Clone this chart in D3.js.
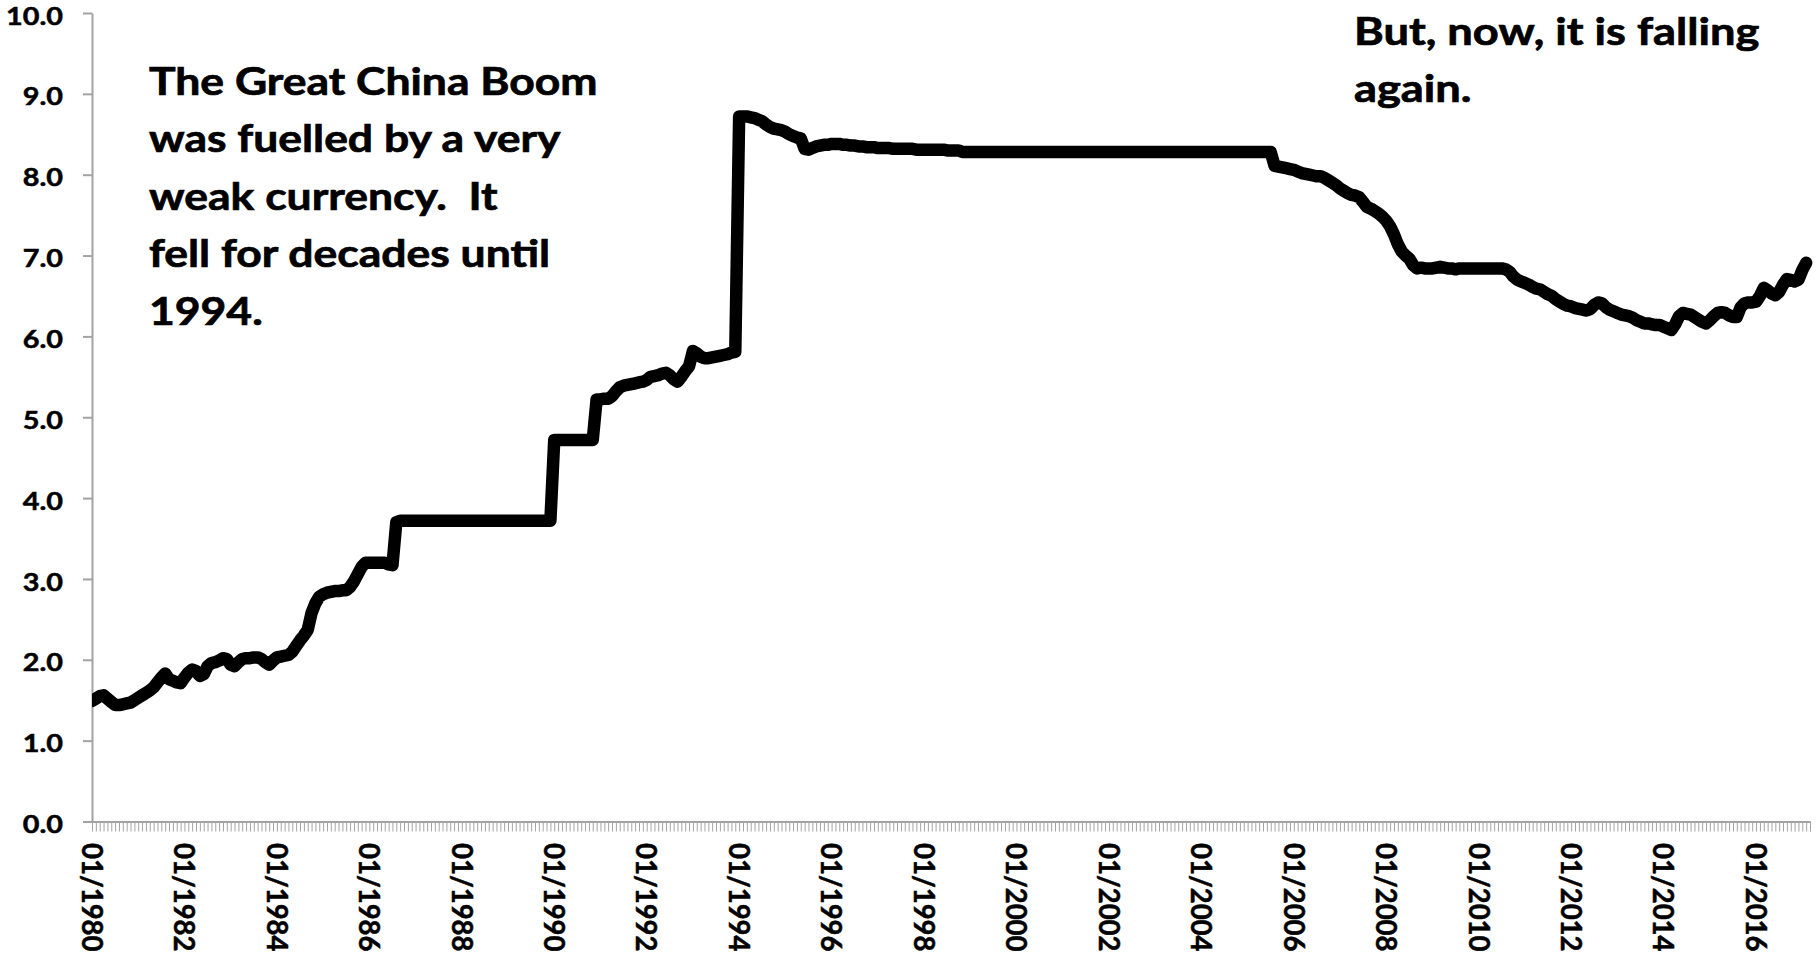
<!DOCTYPE html>
<html>
<head>
<meta charset="utf-8">
<script src="https://cdn.jsdelivr.net/npm/d3@7"></script>
<style>
  body { margin: 0; background: #fff; }
  svg text { font-family: Lato, "Open Sans", sans-serif; font-weight: 700; fill: #000; white-space: pre; }
</style>
</head>
<body>
<svg id="chart" width="1819" height="955"></svg>
<script>
// Yuan per US dollar, monthly, January 1980 to February 2017
const rates1980s = [
  1.49, 1.52, 1.55, 1.56, 1.52, 1.48, 1.44, 1.44, 1.45, 1.46, 1.47, 1.50,
  1.53, 1.56, 1.59, 1.62, 1.66, 1.72, 1.78, 1.83, 1.76, 1.74, 1.72, 1.71,
  1.78, 1.84, 1.88, 1.86, 1.80, 1.82, 1.92, 1.96, 1.97, 1.99, 2.02, 2.01,
  1.94, 1.92, 1.97, 2.01, 2.02, 2.02, 2.03, 2.03, 2.01, 1.97, 1.94, 1.99,
  2.03, 2.04, 2.05, 2.06, 2.10, 2.17, 2.24, 2.30, 2.37, 2.58, 2.70, 2.78,
  2.81, 2.83, 2.84, 2.85, 2.85, 2.86, 2.86, 2.90, 2.97, 3.06, 3.15, 3.20,
  3.20, 3.20, 3.20, 3.20, 3.20, 3.18, 3.17, 3.70, 3.72, 3.72, 3.72, 3.72,
  3.72, 3.72, 3.72, 3.72, 3.72, 3.72, 3.72, 3.72, 3.72, 3.72, 3.72, 3.72,
  3.72, 3.72, 3.72, 3.72, 3.72, 3.72, 3.72, 3.72, 3.72, 3.72, 3.72, 3.72,
  3.72, 3.72, 3.72, 3.72, 3.72, 3.72, 3.72, 3.72, 3.72, 3.72, 3.72, 3.72
];
const rates1990s = [
  4.72, 4.72, 4.72, 4.72, 4.72, 4.72, 4.72, 4.72, 4.72, 4.72, 4.72, 5.22,
  5.22, 5.23, 5.23, 5.26, 5.32, 5.37, 5.39, 5.40, 5.41, 5.42, 5.43, 5.44,
  5.46, 5.50, 5.51, 5.52, 5.54, 5.55, 5.52, 5.47, 5.44, 5.50, 5.57, 5.63,
  5.82, 5.79, 5.75, 5.73, 5.73, 5.74, 5.75, 5.76, 5.77, 5.78, 5.80, 5.81,
  8.72, 8.72, 8.72, 8.71, 8.70, 8.68, 8.66, 8.62, 8.59, 8.57, 8.56, 8.55,
  8.53, 8.50, 8.48, 8.46, 8.45, 8.32, 8.31, 8.33, 8.35, 8.36, 8.37, 8.37,
  8.38, 8.38, 8.38, 8.37, 8.37, 8.36, 8.36, 8.35, 8.35, 8.34, 8.34, 8.34,
  8.33, 8.33, 8.33, 8.33, 8.32, 8.32, 8.32, 8.32, 8.32, 8.32, 8.31, 8.31,
  8.31, 8.31, 8.31, 8.31, 8.31, 8.31, 8.30, 8.30, 8.30, 8.30, 8.28, 8.28,
  8.28, 8.28, 8.28, 8.28, 8.28, 8.28, 8.28, 8.28, 8.28, 8.28, 8.28, 8.28
];
const rates2000s = [
  8.28, 8.28, 8.28, 8.28, 8.28, 8.28, 8.28, 8.28, 8.28, 8.28, 8.28, 8.28,
  8.28, 8.28, 8.28, 8.28, 8.28, 8.28, 8.28, 8.28, 8.28, 8.28, 8.28, 8.28,
  8.28, 8.28, 8.28, 8.28, 8.28, 8.28, 8.28, 8.28, 8.28, 8.28, 8.28, 8.28,
  8.28, 8.28, 8.28, 8.28, 8.28, 8.28, 8.28, 8.28, 8.28, 8.28, 8.28, 8.28,
  8.28, 8.28, 8.28, 8.28, 8.28, 8.28, 8.28, 8.28, 8.28, 8.28, 8.28, 8.28,
  8.28, 8.28, 8.28, 8.28, 8.28, 8.28, 8.28, 8.11, 8.10, 8.09, 8.08, 8.07,
  8.06, 8.04, 8.02, 8.01, 8.00, 7.99, 7.98, 7.98, 7.96, 7.93, 7.90, 7.87,
  7.83, 7.80, 7.77, 7.75, 7.74, 7.72, 7.66, 7.60, 7.58, 7.55, 7.52, 7.48,
  7.43, 7.36, 7.26, 7.14, 7.05, 7.00, 6.96, 6.88, 6.84, 6.85, 6.84, 6.84,
  6.84, 6.85, 6.86, 6.85, 6.84, 6.84, 6.83, 6.84, 6.84, 6.84, 6.84, 6.84
];
const rates2010s = [
  6.84, 6.84, 6.84, 6.84, 6.84, 6.84, 6.84, 6.83, 6.80, 6.74, 6.70, 6.68,
  6.66, 6.64, 6.61, 6.59, 6.58, 6.55, 6.52, 6.50, 6.46, 6.43, 6.40, 6.38,
  6.37, 6.35, 6.34, 6.33, 6.32, 6.34, 6.39, 6.42, 6.41, 6.36, 6.33, 6.31,
  6.29, 6.27, 6.26, 6.25, 6.23, 6.20, 6.18, 6.16, 6.16, 6.15, 6.14, 6.14,
  6.12, 6.10, 6.08, 6.15, 6.25, 6.29, 6.28, 6.27, 6.24, 6.21, 6.18, 6.16,
  6.20, 6.25, 6.29, 6.30, 6.29, 6.26, 6.24, 6.24, 6.36, 6.41, 6.42, 6.42,
  6.43, 6.50, 6.60, 6.57, 6.53, 6.51, 6.55, 6.64, 6.71, 6.70, 6.68, 6.70,
  6.82, 6.91
];

const yTicks = [0, 1, 2, 3, 4, 5, 6, 7, 8, 9, 10];
const xTickLabels = ["01/1980", "01/1982", "01/1984", "01/1986", "01/1988", "01/1990",
  "01/1992", "01/1994", "01/1996", "01/1998", "01/2000", "01/2002", "01/2004",
  "01/2006", "01/2008", "01/2010", "01/2012", "01/2014", "01/2016"];
const monthsPerLabel = 24;

const noteLeft = ["The Great China Boom", "was fuelled by a very", "weak currency.  It",
  "fell for decades until", "1994."];
const noteRight = ["But, now, it is falling", "again."];

const rates = [].concat(rates1980s, rates1990s, rates2000s, rates2010s);

const svg = d3.select("#chart");
const axisGrey = "#a3a3a3";

const plot = { left: 92, right: 1810, top: 13, bottom: 821.5 };

const x = d3.scaleLinear().domain([0, rates.length]).range([plot.left, plot.right]);
const y = d3.scaleLinear().domain([0, 10]).range([plot.bottom, plot.top]);

// y axis
const yAxis = svg.append("g")
  .attr("transform", `translate(${plot.left},0)`)
  .call(d3.axisLeft(y).tickValues(yTicks).tickSize(9).tickSizeOuter(0).tickFormat(d3.format(".1f")));
yAxis.select(".domain").attr("stroke", axisGrey).attr("stroke-width", 2);
yAxis.selectAll(".tick line").attr("stroke", axisGrey).attr("stroke-width", 2);
yAxis.selectAll(".tick text")
  .attr("x", 0).attr("dy", null)
  .attr("dominant-baseline", "central")
  .attr("text-anchor", "end")
  .attr("font-size", 24)
  .attr("stroke", "#000").attr("stroke-width", 0.5)
  .attr("transform", "translate(-29,2) scale(1.2,1)");

// x axis: a tick for every month
const xAxis = svg.append("g")
  .attr("transform", `translate(0,${plot.bottom})`)
  .call(d3.axisBottom(x).tickValues(d3.range(0, rates.length + 1)).tickSize(10).tickSizeOuter(0).tickFormat(""));
xAxis.select(".domain").attr("stroke", axisGrey).attr("stroke-width", 2);
xAxis.selectAll(".tick line").attr("stroke", axisGrey).attr("stroke-width", 1);

// rotated month labels
svg.append("g").selectAll("text")
  .data(xTickLabels)
  .join("text")
  .attr("transform", (d, k) => `translate(${x(k * monthsPerLabel)},843) rotate(90) scale(1,1.06)`)
  .attr("dy", "0.35em")
  .attr("text-anchor", "start")
  .attr("font-size", 27.5)
  .attr("stroke", "#000").attr("stroke-width", 0.5)
  .text(d => d);

// the rate line
svg.append("clipPath").attr("id", "plotClip")
  .append("rect").attr("x", plot.left).attr("y", 0).attr("width", 1819 - plot.left).attr("height", 955);

svg.append("path")
  .datum(rates)
  .attr("clip-path", "url(#plotClip)")
  .attr("fill", "none")
  .attr("stroke", "#000")
  .attr("stroke-width", 12.5)
  .attr("stroke-linejoin", "round")
  .attr("stroke-linecap", "round")
  .attr("d", d3.line().x((d, i) => x(i)).y(d => y(d)));

// annotations
function note(lines, left, top, stretch) {
  const t = svg.append("text")
    .attr("font-size", 38.5)
    .attr("stroke", "#000").attr("stroke-width", 0.7)
    .attr("transform", `translate(${left},${top}) scale(${stretch},1)`);
  t.selectAll("tspan")
    .data(lines)
    .join("tspan")
    .attr("x", 0)
    .attr("y", (d, k) => k * 57.5)
    .text(d => d);
}
note(noteLeft, 149, 95, 1.155);
note(noteRight, 1354, 45, 1.175);
</script>
</body>
</html>
